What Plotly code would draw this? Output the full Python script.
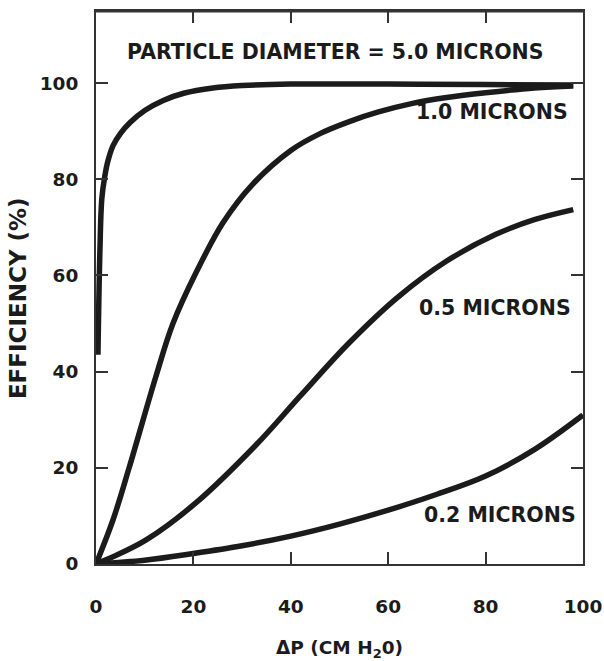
import plotly.graph_objects as go

# ---- data ----
dp_5um = [0.4, 0.8, 1.2, 1.8, 2.5, 3.5, 5, 7, 10, 13.8, 18, 24, 30, 40, 60, 80, 98]
eff_5um = [43.5, 65, 76, 80.6, 84, 87, 89.5, 91.8, 94.3, 96.4, 97.9, 99.0, 99.5, 99.8, 99.8, 99.7, 99.6]

dp_1um = [0, 3.5, 6.8, 12.3, 15.8, 20.5, 26.1, 32.2, 40, 46, 52, 58, 65, 72, 80, 90, 98]
eff_1um = [0, 9.2, 20, 39, 50, 60.5, 71, 79, 86, 89.5, 92, 94, 95.8, 97, 98, 99, 99.4]

dp_05um = [0, 3.5, 10.3, 20.5, 32.9, 42, 52, 62, 72, 82, 90, 98]
eff_05um = [0, 1.5, 5, 12.7, 24.8, 35, 46, 55.5, 63, 68.5, 71.6, 73.7]

dp_02um = [0, 10, 20, 30, 40, 50, 60, 70, 80, 90, 100]
eff_02um = [0, 0.8, 2.2, 3.8, 5.8, 8.3, 11.2, 14.5, 18.3, 23.8, 31]

x_ticks = [0, 20, 40, 60, 80, 100]
y_ticks = [0, 20, 40, 60, 80, 100]

labels = ["PARTICLE DIAMETER = 5.0 MICRONS", "1.0 MICRONS", "0.5 MICRONS", "0.2 MICRONS"]
x_title = "ΔP (CM H<sub>2</sub>0)"
y_title = "EFFICIENCY (%)"

INK = "#1b1b1b"
FONT = "DejaVu Sans"

fig = go.Figure()
for xs, ys in [(dp_5um, eff_5um), (dp_1um, eff_1um), (dp_05um, eff_05um), (dp_02um, eff_02um)]:
    fig.add_trace(go.Scatter(
        x=xs, y=ys, mode="lines",
        line=dict(color=INK, width=5.5, shape="spline", smoothing=1.0),
        showlegend=False, hoverinfo="skip",
    ))

axis_common = dict(
    showgrid=False, zeroline=False, automargin=False,
    showline=True, linewidth=2, linecolor="#333333", mirror="allticks",
    ticks="inside", ticklen=12, tickwidth=2, tickcolor="#333333",
    tickfont=dict(family=FONT, size=18.5, color=INK, weight="bold"),
)

fig.update_xaxes(
    range=[0, 100], tickvals=x_ticks, ticktext=[str(v) for v in x_ticks],
    ticklabelstandoff=25,
    title=dict(text=x_title, standoff=30,
               font=dict(family=FONT, size=18.5, color=INK, weight="bold")),
    **axis_common,
)
fig.update_yaxes(
    range=[0, 115], tickvals=y_ticks, ticktext=[str(v) for v in y_ticks],
    ticklabelstandoff=12,
    **axis_common,
)

# y-axis title placed as rotated text (sits slightly below the plot centre in the scan)
fig.add_annotation(xref="paper", yref="paper", x=-0.16, y=0.481, text=y_title,
                   textangle=-90, showarrow=False, xanchor="center", yanchor="middle",
                   font=dict(family=FONT, size=23, color=INK, weight="bold"))

ann_font = dict(family=FONT, size=20.5, color=INK, weight="bold")
fig.add_annotation(x=49.1, y=106.4, text=labels[0], showarrow=False,
                   xanchor="center", yanchor="middle", font=ann_font)
fig.add_annotation(x=97.3, y=94, text=labels[1], showarrow=False,
                   xanchor="right", yanchor="middle", font=ann_font)
fig.add_annotation(x=97.9, y=53.2, text=labels[2], showarrow=False,
                   xanchor="right", yanchor="middle", font=ann_font)
fig.add_annotation(x=99.0, y=10.2, text=labels[3], showarrow=False,
                   xanchor="right", yanchor="middle", font=ann_font)

# slightly heavier top frame, as in the scan
fig.add_shape(type="line", xref="paper", yref="paper", x0=0, x1=1, y0=1, y1=1,
              line=dict(color="#333333", width=3))

fig.update_layout(
    width=604, height=661,
    margin=dict(l=96, r=21, t=11, b=97, autoexpand=False),
    paper_bgcolor="white", plot_bgcolor="white",
)

fig.write_html("out.html")
